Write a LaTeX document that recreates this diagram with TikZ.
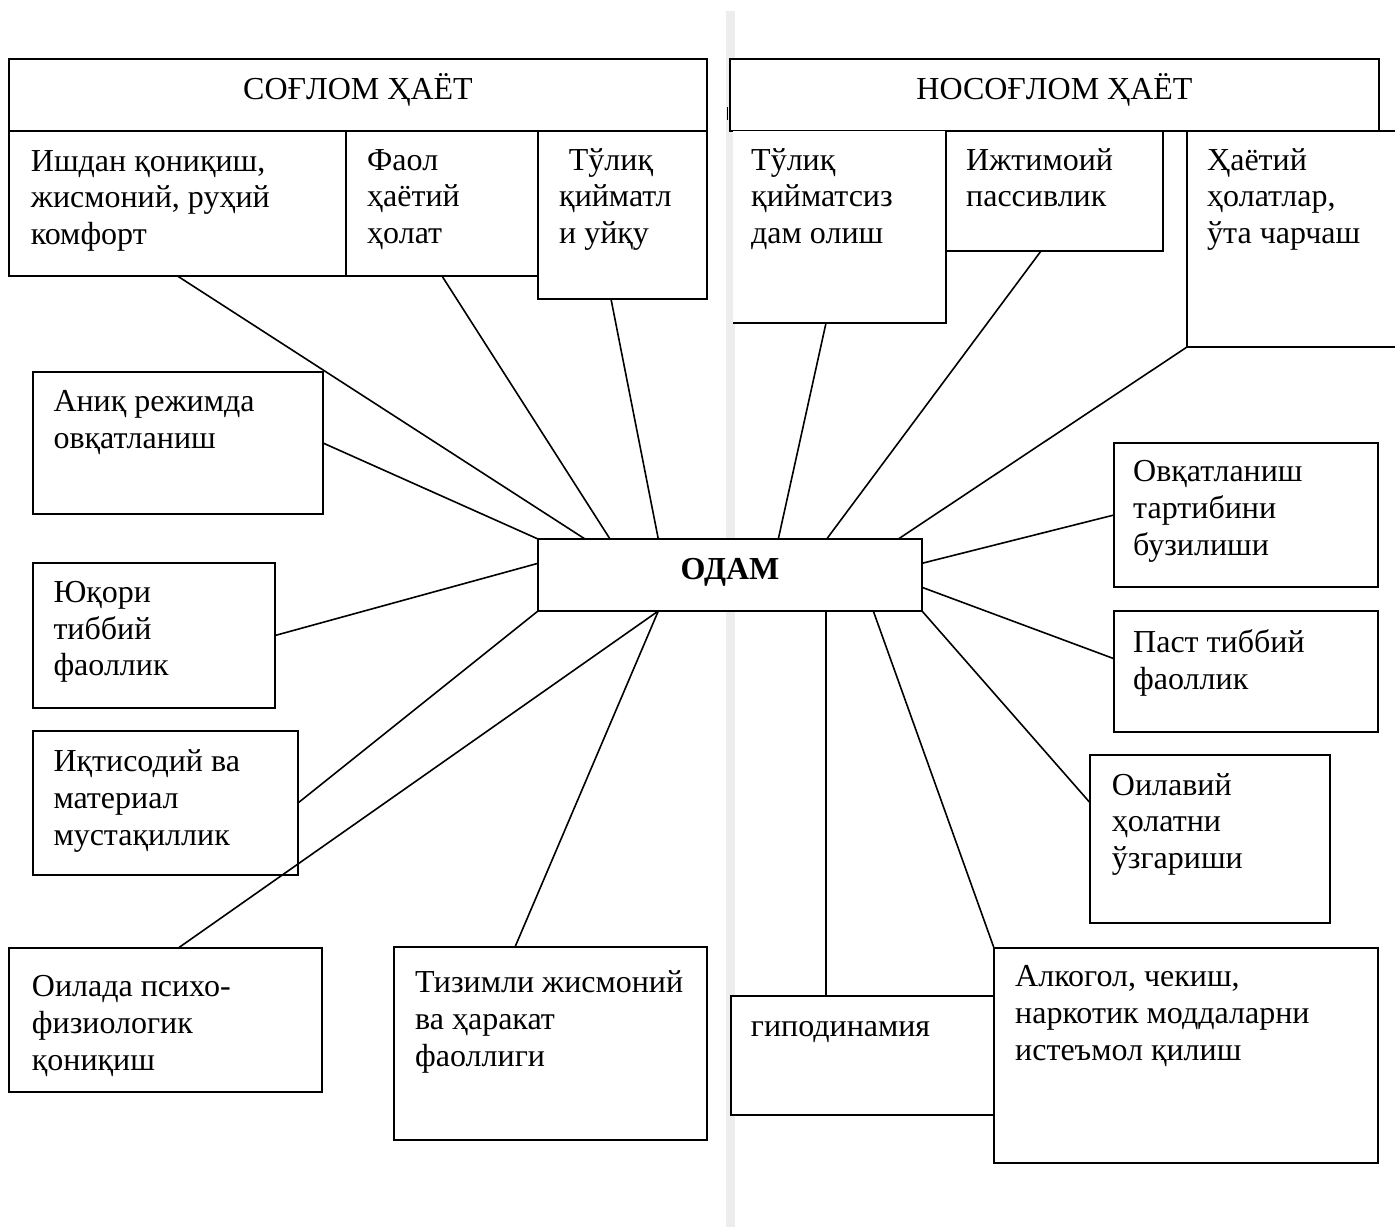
\documentclass[tikz,border=0pt]{standalone}
\usepackage{fontspec}
\setmainfont{Liberation Serif}
\begin{document}
\begin{tikzpicture}[x=1pt,y=-1pt,
  box/.style={draw, fill=white, line width=1.8pt, inner sep=0pt, outer sep=0pt, anchor=north west},
  nobox/.style={fill=white, inner sep=0pt, outer sep=0pt, anchor=north west},
  txt/.style={anchor=base west, align=left, inner sep=0pt, font=\fontsize{32}{36.8}\selectfont},
  head/.style={anchor=base, inner sep=0pt, font=\fontsize{32}{36.8}\selectfont},
  conn/.style={line width=1.6pt}]
\useasboundingbox (0,0) rectangle (1395,1227);
\clip (0,0) rectangle (1395,1227);
% light separator band
\fill[black!7] (726,11) rectangle (735,1227);
\draw[line width=1.8pt] (727.5,107) -- (727.5,120);
% left group
\node[box, minimum width=698pt, minimum height=72pt] (hL) at (9,59) {};
\node[box, minimum width=337pt, minimum height=145pt] (ish) at (9,131) {};
\node[box, minimum width=192pt, minimum height=145pt] (faol) at (346,131) {};
\node[box, minimum width=169pt, minimum height=168pt] (tulik) at (538,131) {};
\node[box, minimum width=290pt, minimum height=142pt] (anik) at (33,372) {};
\node[box, minimum width=242pt, minimum height=145pt] (yuqori) at (33,563) {};
\node[box, minimum width=265pt, minimum height=144pt] (iqt) at (33,731) {};
\node[box, minimum width=313pt, minimum height=144pt] (oilada) at (9,948) {};
\node[box, minimum width=313pt, minimum height=193pt] (tizim) at (394,947) {};
% right group
\node[box, minimum width=649pt, minimum height=72pt] (hR) at (730,59) {};
\node[nobox, minimum width=213pt, minimum height=192pt] (tulikR) at (733,131) {};
\draw[line width=1.8pt] (tulikR.south west) -- (tulikR.south east) -- (tulikR.north east);
\node[box, minimum width=217pt, minimum height=120pt] (ijt) at (946,131) {};
\node[box, minimum width=230pt, minimum height=216pt] (hayot) at (1187,131) {};
\node[box, minimum width=264pt, minimum height=144pt] (ovq) at (1114,443) {};
\node[box, minimum width=264pt, minimum height=121pt] (past) at (1114,611) {};
\node[box, minimum width=240pt, minimum height=168pt] (oilav) at (1090,755) {};
\node[box, minimum width=384pt, minimum height=215pt] (alko) at (994,948) {};
\node[box, minimum width=263pt, minimum height=119pt] (gipo) at (731,996) {};
% centre
\node[box, minimum width=384pt, minimum height=72pt] (odam) at (538,539) {};
% connectors
\draw[conn] (ish.south) -- ([xshift=-145pt]odam.north);
\draw[conn] (faol.south) -- ([xshift=-120pt]odam.north);
\draw[conn] ([xshift=-11.5pt]tulik.south) -- ([xshift=-71.7pt]odam.north);
\draw[conn] (anik.east) -- (odam.north west);
\draw[conn] (yuqori.east) -- ([yshift=11.7pt]odam.west);
\draw[conn] (iqt.east) -- (odam.south west);
\draw[conn] ([xshift=12.8pt]oilada.north) -- ([xshift=-71.7pt]odam.south);
\draw[conn] ([xshift=-35.5pt]tizim.north) -- ([xshift=-71.7pt]odam.south);
\draw[conn] ([xshift=-13.5pt]tulikR.south) -- ([xshift=48.3pt]odam.north);
\draw[conn] ([xshift=-13.5pt]ijt.south) -- ([xshift=96.7pt]odam.north);
\draw[conn] (hayot.south west) -- ([xshift=168.3pt]odam.north);
\draw[conn] (ovq.west) -- ([yshift=11.7pt]odam.east);
\draw[conn] ([yshift=12.8pt]past.west) -- ([yshift=-12.3pt]odam.east);
\draw[conn] ([yshift=36.3pt]oilav.west) -- (odam.south east);
\draw[conn] (alko.north west) -- ([xshift=143.3pt]odam.south);
\draw[conn] ([xshift=-36.5pt]gipo.north) -- ([xshift=96pt]odam.south);
% texts (anchor = baseline of the last line)
\node[head] (t-hL) at (358,99.3) {СОҒЛОМ ҲАЁТ};
\node[head] (t-hR) at (1054.5,99.3) {НОСОҒЛОМ ҲАЁТ};
\node[head, font=\fontsize{32}{36.8}\selectfont\bfseries] (t-odam) at (730,579) {ОДАМ};
\node[txt] (t-ish) at (30.7,244.6) {Ишдан қониқиш,\\жисмоний, руҳий\\комфорт};
\node[txt] (t-faol) at (367,243.6) {Фаол\\ҳаётий\\ҳолат};
\node[txt] (t-tulik) at (559,243.6) {\hspace*{9.7pt}Тўлиқ\\қийматл\\и уйқу};
\node[txt] (t-anik) at (53.3,448.5) {Аниқ режимда\\овқатланиш};
\node[txt] (t-yuqori) at (53.3,675.9) {Юқори\\тиббий\\фаоллик};
\node[txt] (t-iqt) at (53.3,845.3) {Иқтисодий ва\\материал\\мустақиллик};
\node[txt] (t-oilada) at (31.7,1070.3) {Оилада психо-\\физиологик\\қониқиш};
\node[txt] (t-tizim) at (415,1066) {Тизимли жисмоний\\ва ҳаракат\\фаоллиги};
\node[txt] (t-tulikR) at (751,243.6) {Тўлиқ\\қийматсиз\\дам олиш};
\node[txt] (t-ijt) at (966,206.8) {Ижтимоий\\пассивлик};
\node[txt] (t-hayot) at (1207,243.6) {Ҳаётий\\ҳолатлар,\\ўта чарчаш};
\node[txt] (t-ovq) at (1133,555.5) {Овқатланиш\\тартибини\\бузилиши};
\node[txt] (t-past) at (1133,689) {Паст тиббий\\фаоллик};
\node[txt] (t-oilav) at (1111.7,868.6) {Оилавий\\ҳолатни\\ўзгариши};
\node[txt] (t-alko) at (1015,1060.3) {Алкогол, чекиш,\\наркотик моддаларни\\истеъмол қилиш};
\node[txt] (t-gipo) at (750.7,1036) {гиподинамия};
\end{tikzpicture}
\end{document}
